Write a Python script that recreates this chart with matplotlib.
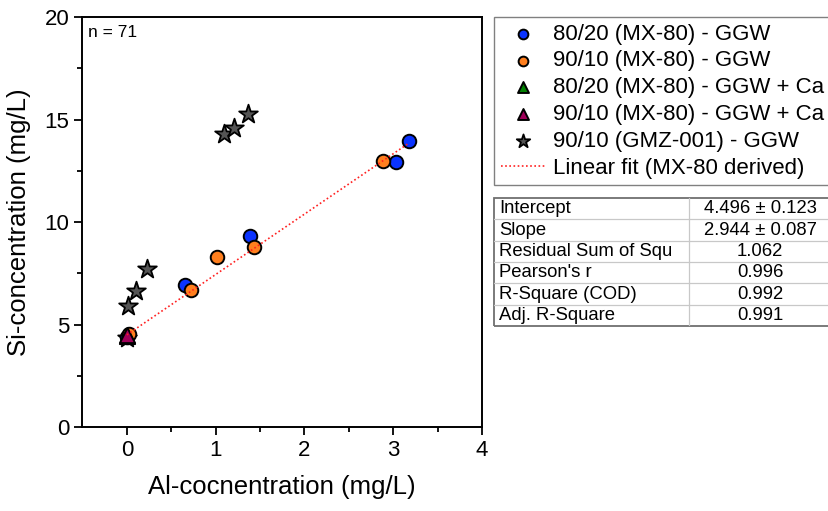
import matplotlib
matplotlib.use("Agg")
import matplotlib.pyplot as plt

plt.rcParams['font.family'] = ['Liberation Sans', 'DejaVu Sans']

# Al / Si concentrations (mg/L) per series
al_8020 = [0.0, 0.66, 1.39, 3.03, 3.18]
si_8020 = [4.40, 6.93, 9.32, 12.94, 13.97]

al_9010 = [0.02, 0.72, 1.02, 1.43, 2.88]
si_9010 = [4.55, 6.67, 8.28, 8.80, 12.98]

al_8020_ca = [0.0]
si_8020_ca = [4.45]

al_9010_ca = [0.0]
si_9010_ca = [4.50]

al_gmz = [0.0, 0.015, 0.10, 0.23, 1.09, 1.21, 1.36]
si_gmz = [4.35, 5.90, 6.65, 7.69, 14.28, 14.60, 15.25]

# linear fit on the MX-80 series
fit_intercept = 4.496
fit_slope = 2.944
fit_x = [0.0, 3.18]

stat_names = ["Intercept", "Slope", "Residual Sum of Squ", "Pearson's r",
              "R-Square (COD)", "Adj. R-Square"]
stat_values = ["4.496 \u00b1 0.123", "2.944 \u00b1 0.087", "1.062", "0.996",
               "0.992", "0.991"]

W, H = 829, 511
fig = plt.figure(figsize=(W / 100, H / 100), dpi=100)
ax = fig.add_axes([82.5 / W, (H - 427) / H, (482 - 82.5) / W, 410 / H])

ax.scatter(al_gmz, si_gmz, marker='*', s=200, color='#555555',
           edgecolors='black', linewidths=1.3, zorder=3,
           label='90/10 (GMZ-001) - GGW')
ax.scatter(al_8020, si_8020, marker='o', s=95, color='#0A33FF',
           edgecolors='black', linewidths=1.4, zorder=4,
           label='80/20 (MX-80) - GGW')
ax.scatter(al_9010, si_9010, marker='o', s=95, color='#FF7F1E',
           edgecolors='black', linewidths=1.4, zorder=4,
           label='90/10 (MX-80) - GGW')
ax.scatter(al_8020_ca, si_8020_ca, marker='^', s=120, color='#008000',
           edgecolors='black', linewidths=1.4, zorder=5,
           label='80/20 (MX-80) - GGW + Ca')
ax.scatter(al_9010_ca, si_9010_ca, marker='^', s=120, color='#A0005A',
           edgecolors='black', linewidths=1.4, zorder=5,
           label='90/10 (MX-80) - GGW + Ca')

fit_y = [fit_intercept + fit_slope * x for x in fit_x]
ax.plot(fit_x, fit_y, color='#FF2020', linestyle=(0, (1, 1.5)),
        linewidth=1.2, zorder=6, label='Linear fit (MX-80 derived)')

ax.set_xlim(-0.5, 4)
ax.set_ylim(0, 20)
ax.set_xticks([0, 1, 2, 3, 4])
ax.set_yticks([0, 5, 10, 15, 20])
ax.set_xticks([0.5, 1.5, 2.5, 3.5], minor=True)
ax.set_yticks([2.5, 7.5, 12.5, 17.5], minor=True)
ax.tick_params(which='major', direction='out', length=6, width=1.3,
               labelsize=16, top=False, right=False)
ax.tick_params(which='minor', direction='out', length=3.5, width=1.3,
               top=False, right=False)
for sp in ax.spines.values():
    sp.set_linewidth(1.4)

ax.set_xlabel('Al-cocnentration (mg/L)', fontsize=18.5, labelpad=10)
ax.set_ylabel('Si-concentration (mg/L)', fontsize=18.5, labelpad=10)

ax.text(0.014, 0.962, 'n = 71', transform=ax.transAxes, fontsize=12.5,
        va='center', ha='left')

# legend in the same order as the series list
handles, labels = ax.get_legend_handles_labels()
order = ['80/20 (MX-80) - GGW', '90/10 (MX-80) - GGW',
         '80/20 (MX-80) - GGW + Ca', '90/10 (MX-80) - GGW + Ca',
         '90/10 (GMZ-001) - GGW', 'Linear fit (MX-80 derived)']
lookup = dict(zip(labels, handles))
leg = fig.legend([lookup[k] for k in order], order,
                 loc='upper left', bbox_to_anchor=(494 / W, 1 - 17 / H),
                 borderaxespad=0, fontsize=16, frameon=True, fancybox=False,
                 edgecolor='#808080', framealpha=1, borderpad=0.3,
                 handlelength=2.0, handletextpad=0.35, labelspacing=0.26,
                 markerscale=0.72)
leg.get_frame().set_linewidth(1.0)

# fit statistics table
tab = fig.add_axes([494 / W, (H - 326) / H, (831 - 494) / W, 128 / H])
tab.set_xlim(0, 1)
tab.set_ylim(0, len(stat_names))
tab.axis('off')
n_rows = len(stat_names)
col_split = (689 - 494) / (831 - 494)
for i in range(1, n_rows):
    tab.axhline(i, color='#C8C8C8', linewidth=0.9)
tab.axvline(col_split, color='#C8C8C8', linewidth=0.9)
tab.add_patch(plt.Rectangle((0, 0), 1, n_rows, fill=False,
                            edgecolor='#707070', linewidth=1.3, clip_on=False))
for i, (name, val) in enumerate(zip(stat_names, stat_values)):
    yc = n_rows - i - 0.5
    tab.text(0.015, yc, name, fontsize=13.3, va='center', ha='left')
    tab.text((col_split + 1) / 2, yc, val, fontsize=13.3, va='center',
             ha='center')

fig.savefig('out.png', dpi=100)
